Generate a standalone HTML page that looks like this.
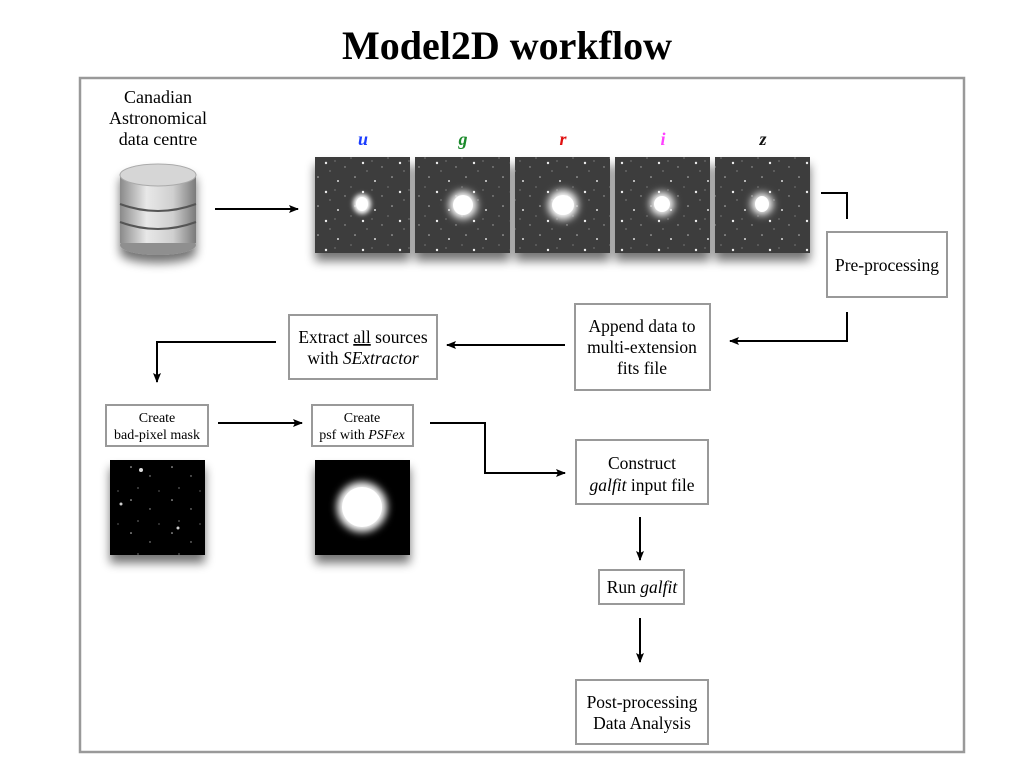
<!DOCTYPE html>
<html><head><meta charset="utf-8"><style>
html,body{margin:0;padding:0;background:#fff;}
svg{display:block;font-family:"Liberation Serif",serif;}
</style></head><body>
<svg width="1024" height="768" viewBox="0 0 1024 768" xmlns="http://www.w3.org/2000/svg">
<defs>
<marker id="ah" markerWidth="10" markerHeight="8" refX="9" refY="4" orient="auto" markerUnits="userSpaceOnUse">
<path d="M0,0 L10,4 L0,8 L2,4 Z" fill="#000"/></marker>
<filter id="sh" x="-30%" y="-30%" width="160%" height="170%"><feGaussianBlur in="SourceAlpha" stdDeviation="5"/><feOffset dx="0" dy="8"/><feComponentTransfer><feFuncA type="linear" slope="0.55"/></feComponentTransfer><feMerge><feMergeNode/><feMergeNode in="SourceGraphic"/></feMerge></filter>
<filter id="bl" x="-100%" y="-100%" width="300%" height="300%"><feGaussianBlur stdDeviation="4"/></filter>
<filter id="bl2" x="-100%" y="-100%" width="300%" height="300%"><feGaussianBlur stdDeviation="2.5"/></filter>
<pattern id="stars" width="37" height="29" patternUnits="userSpaceOnUse">
<rect width="37" height="29" fill="#3e3e3e"/>
<circle cx="5" cy="7" r="1" fill="#ddd"/><circle cx="22" cy="3" r="0.8" fill="#bbb"/><circle cx="30" cy="18" r="1.2" fill="#eee"/><circle cx="12" cy="22" r="0.7" fill="#aaa"/><circle cx="18" cy="13" r="0.6" fill="#999"/><circle cx="34" cy="26" r="0.6" fill="#aaa"/><circle cx="2" cy="16" r="0.6" fill="#999"/>
</pattern>
<pattern id="mstars" width="41" height="33" patternUnits="userSpaceOnUse">
<rect width="41" height="33" fill="#000"/>
<circle cx="8" cy="5" r="0.8" fill="#ccc"/><circle cx="27" cy="14" r="0.7" fill="#aaa"/><circle cx="15" cy="26" r="0.6" fill="#bbb"/><circle cx="36" cy="29" r="0.6" fill="#999"/>
</pattern>
<linearGradient id="cyl" x1="0" x2="1"><stop offset="0" stop-color="#8a8a8a"/><stop offset="0.35" stop-color="#e8e8e8"/><stop offset="0.7" stop-color="#cfcfcf"/><stop offset="1" stop-color="#7a7a7a"/></linearGradient>
</defs>

<text x="507" y="59" text-anchor="middle" font-size="40" font-weight="bold">Model2D workflow</text>
<rect x="80" y="78" width="884" height="674" fill="none" stroke="#999" stroke-width="2.5"/>

<g font-size="18" text-anchor="middle">
<text x="158" y="103">Canadian</text>
<text x="158" y="124">Astronomical</text>
<text x="158" y="145">data centre</text>
</g>

<g filter="url(#sh)">
<ellipse cx="158" cy="245" rx="38" ry="10" fill="#8f8f8f"/>
<rect x="120" y="175" width="76" height="68" fill="url(#cyl)"/>
<ellipse cx="158" cy="175" rx="38" ry="11" fill="#d6d6d6" stroke="#aaa"/>
<path d="M120,204 Q158,218 196,204" stroke="#555" stroke-width="2" fill="none"/>
<path d="M120,222 Q158,236 196,222" stroke="#555" stroke-width="2" fill="none"/>
</g>

<line x1="215" y1="209" x2="298" y2="209" stroke="#000" stroke-width="2" marker-end="url(#ah)"/>

<g font-size="18" font-weight="bold" font-style="italic" text-anchor="middle">
<text x="363" y="145" fill="#1a3cff">u</text>
<text x="463" y="145" fill="#1a8a2a">g</text>
<text x="563" y="145" fill="#e01010">r</text>
<text x="663" y="145" fill="#ff40ff">i</text>
<text x="763" y="145" fill="#111">z</text>
</g>

<g filter="url(#sh)">
<rect x="315" y="157" width="95" height="96" fill="url(#stars)"/>
<rect x="415" y="157" width="95" height="96" fill="url(#stars)"/>
<rect x="515" y="157" width="95" height="96" fill="url(#stars)"/>
<rect x="615" y="157" width="95" height="96" fill="url(#stars)"/>
<rect x="715" y="157" width="95" height="96" fill="url(#stars)"/>
</g>
<g fill="#fff">
<ellipse cx="362" cy="204" rx="9" ry="10" filter="url(#bl2)"/><ellipse cx="362" cy="204" rx="6" ry="7"/>
<ellipse cx="463" cy="205" rx="14" ry="14" filter="url(#bl)"/><ellipse cx="463" cy="205" rx="10" ry="10"/>
<ellipse cx="563" cy="205" rx="15" ry="15" filter="url(#bl)"/><ellipse cx="563" cy="205" rx="11" ry="10"/>
<ellipse cx="662" cy="204" rx="12" ry="12" filter="url(#bl)"/><ellipse cx="662" cy="204" rx="8" ry="8"/>
<ellipse cx="762" cy="204" rx="11" ry="11" filter="url(#bl)"/><ellipse cx="762" cy="204" rx="7" ry="8"/>
</g>

<polyline points="821,193 847,193 847,219" fill="none" stroke="#000" stroke-width="2"/>

<g fill="#fff" stroke="#999" stroke-width="2">
<rect x="827" y="232" width="120" height="65"/>
<rect x="575" y="304" width="135" height="86"/>
<rect x="289" y="315" width="148" height="64"/>
<rect x="106" y="405" width="102" height="41"/>
<rect x="312" y="405" width="101" height="41"/>
<rect x="576" y="440" width="132" height="64"/>
<rect x="599" y="570" width="85" height="34"/>
<rect x="576" y="680" width="132" height="64"/>
</g>

<g font-size="17.5" text-anchor="middle">
<text x="887" y="271">Pre-processing</text>
<text x="642" y="332">Append data to</text>
<text x="642" y="353">multi-extension</text>
<text x="642" y="374">fits file</text>
<text x="363" y="343">Extract <tspan text-decoration="underline">all</tspan> sources</text>
<text x="363" y="364">with <tspan font-style="italic">SExtractor</tspan></text>
<text x="642" y="469">Construct</text>
<text x="642" y="491"><tspan font-style="italic">galfit</tspan> input file</text>
<text x="642" y="593">Run <tspan font-style="italic">galfit</tspan></text>
<text x="642" y="708">Post-processing</text>
<text x="642" y="729">Data Analysis</text>
</g>
<g font-size="14" text-anchor="middle">
<text x="157" y="422">Create</text>
<text x="157" y="439">bad-pixel mask</text>
<text x="362" y="422">Create</text>
<text x="362" y="439">psf with <tspan font-style="italic">PSFex</tspan></text>
</g>

<g stroke="#000" stroke-width="2" fill="none">
<polyline points="847,312 847,341 730,341" marker-end="url(#ah)"/>
<line x1="565" y1="345" x2="447" y2="345" marker-end="url(#ah)"/>
<polyline points="276,342 157,342 157,382" marker-end="url(#ah)"/>
<line x1="218" y1="423" x2="302" y2="423" marker-end="url(#ah)"/>
<polyline points="430,423 485,423 485,473 565,473" marker-end="url(#ah)"/>
<line x1="640" y1="517" x2="640" y2="560" marker-end="url(#ah)"/>
<line x1="640" y1="618" x2="640" y2="662" marker-end="url(#ah)"/>
</g>

<g filter="url(#sh)">
<rect x="110" y="460" width="95" height="95" fill="url(#mstars)"/>
<rect x="315" y="460" width="95" height="95" fill="#000"/>
</g>
<circle cx="141" cy="470" r="2" fill="#ddd"/><circle cx="121" cy="504" r="1.5" fill="#ccc"/><circle cx="178" cy="528" r="1.5" fill="#ccc"/>
<circle cx="362" cy="507" r="25" fill="#fff" filter="url(#bl)"/>
<circle cx="362" cy="507" r="20" fill="#fff"/>
</svg>
</body></html>
